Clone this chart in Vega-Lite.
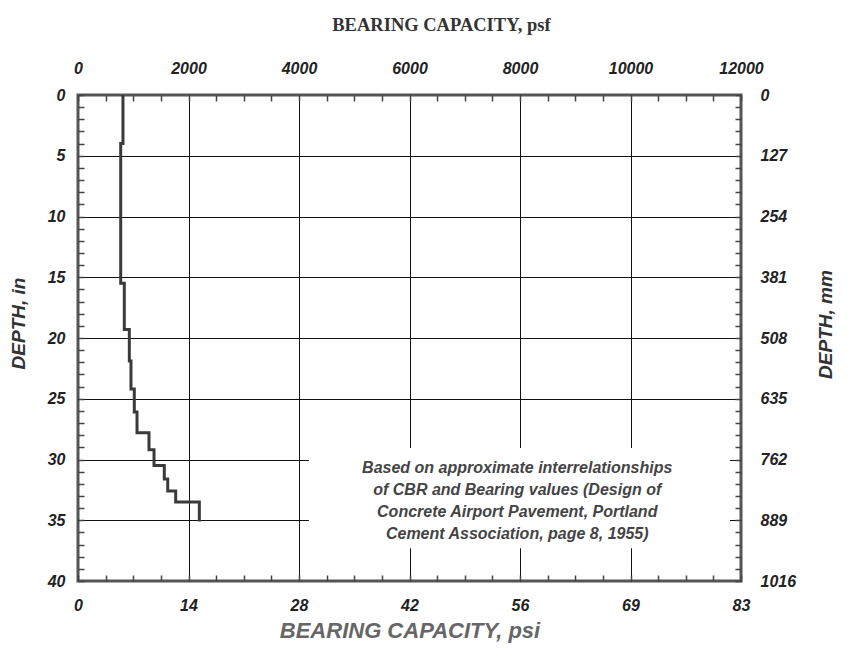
{
  "$schema": "https://vega.github.io/schema/vega-lite/v6.json",
  "width": 663,
  "height": 486,
  "autosize": {"type": "none"},
  "padding": {"left": 78, "top": 95, "right": 110, "bottom": 75},
  "background": "white",
  "config": {
    "view": {"stroke": "#555", "strokeWidth": 3},
    "axis": {
      "labelFont": "Liberation Sans",
      "labelFontStyle": "italic",
      "labelFontWeight": "bold",
      "labelFontSize": 16,
      "labelColor": "#222",
      "labelFlush": false,
      "labelOverlap": false,
      "domain": false,
      "tickColor": "#444",
      "tickWidth": 1.5,
      "tickSize": -6,
      "gridColor": "#111",
      "gridWidth": 1,
      "titleFont": "Liberation Sans",
      "titleFontStyle": "italic",
      "titleFontWeight": "bold",
      "titleColor": "#333"
    }
  },
  "resolve": {"axis": {"x": "independent", "y": "independent"}},
  "layer": [
    {
      "data": {"values": [{"x1": 4180, "x2": 11800, "d1": 29.05, "d2": 37.3}]},
      "mark": {"type": "rect", "fill": "white", "stroke": null},
      "encoding": {
        "x": {
          "field": "x1", "type": "quantitative",
          "scale": {"domain": [0, 12000], "nice": false, "zero": false},
          "axis": {
            "orient": "bottom",
            "values": [0,500,1000,1500,2000,2500,3000,3500,4000,4500,5000,5500,6000,6500,7000,7500,8000,8500,9000,9500,10000,10500,11000,11500,12000],
            "labelExpr": "datum.value % 2000 === 0 ? format(round(datum.value / 144), 'd') : ''",
            "labelPadding": 22,
            "grid": true,
            "gridOpacity": {"condition": {"test": "datum.value % 2000 === 0 && datum.value > 0 && datum.value < 12000", "value": 1}, "value": 0},
            "title": "BEARING CAPACITY, psi",
            "titleFontSize": 22,
            "titleColor": "#666",
            "titlePadding": 7
          }
        },
        "x2": {"field": "x2"},
        "y": {
          "field": "d1", "type": "quantitative",
          "scale": {"domain": [0, 40], "reverse": true, "nice": false, "zero": false},
          "axis": {
            "orient": "left",
            "values": [0,1,2,3,4,5,6,7,8,9,10,11,12,13,14,15,16,17,18,19,20,21,22,23,24,25,26,27,28,29,30,31,32,33,34,35,36,37,38,39,40],
            "labelExpr": "datum.value % 5 === 0 ? format(datum.value, 'd') : ''",
            "labelPadding": 19,
            "grid": true,
            "gridOpacity": {"condition": {"test": "datum.value % 5 === 0 && datum.value > 0 && datum.value < 40", "value": 1}, "value": 0},
            "title": "DEPTH, in",
            "titleFontSize": 19,
            "titlePadding": 19,
            "titleY": 228
          }
        },
        "y2": {"field": "d2"}
      }
    },
    {
      "data": {"values": [
        {"i": 1, "depth": 0, "psf": 814},
        {"i": 2, "depth": 4, "psf": 814},
        {"i": 3, "depth": 4, "psf": 773},
        {"i": 4, "depth": 15.5, "psf": 773},
        {"i": 5, "depth": 15.5, "psf": 838},
        {"i": 6, "depth": 19.3, "psf": 838},
        {"i": 7, "depth": 19.3, "psf": 929},
        {"i": 8, "depth": 21.9, "psf": 929},
        {"i": 9, "depth": 21.9, "psf": 959},
        {"i": 10, "depth": 24.2, "psf": 959},
        {"i": 11, "depth": 24.2, "psf": 1019},
        {"i": 12, "depth": 26.1, "psf": 1019},
        {"i": 13, "depth": 26.1, "psf": 1068},
        {"i": 14, "depth": 27.8, "psf": 1068},
        {"i": 15, "depth": 27.8, "psf": 1285},
        {"i": 16, "depth": 29.2, "psf": 1285},
        {"i": 17, "depth": 29.2, "psf": 1376},
        {"i": 18, "depth": 30.5, "psf": 1376},
        {"i": 19, "depth": 30.5, "psf": 1562},
        {"i": 20, "depth": 31.6, "psf": 1562},
        {"i": 21, "depth": 31.6, "psf": 1624},
        {"i": 22, "depth": 32.6, "psf": 1624},
        {"i": 23, "depth": 32.6, "psf": 1768},
        {"i": 24, "depth": 33.5, "psf": 1768},
        {"i": 25, "depth": 33.5, "psf": 2196},
        {"i": 26, "depth": 35.1, "psf": 2196}
      ]},
      "mark": {"type": "line", "stroke": "#3a3a3a", "strokeWidth": 3, "strokeJoin": "miter"},
      "encoding": {
        "x": {
          "field": "psf", "type": "quantitative",
          "scale": {"domain": [0, 12000], "nice": false, "zero": false},
          "axis": {
            "orient": "top",
            "values": [0,500,1000,1500,2000,2500,3000,3500,4000,4500,5000,5500,6000,6500,7000,7500,8000,8500,9000,9500,10000,10500,11000,11500,12000],
            "labelExpr": "datum.value % 2000 === 0 ? format(datum.value, 'd') : ''",
            "labelPadding": 25,
            "grid": false,
            "title": "BEARING CAPACITY, psf",
            "titleFont": "Liberation Serif",
            "titleFontStyle": "normal",
            "titleFontWeight": "bold",
            "titleFontSize": 18.5,
            "titleColor": "#333",
            "titlePadding": 26,
            "titleX": 363
          }
        },
        "y": {
          "field": "depth", "type": "quantitative",
          "scale": {"domain": [0, 40], "reverse": true, "nice": false, "zero": false},
          "axis": {
            "orient": "right",
            "values": [0,1,2,3,4,5,6,7,8,9,10,11,12,13,14,15,16,17,18,19,20,21,22,23,24,25,26,27,28,29,30,31,32,33,34,35,36,37,38,39,40],
            "labelExpr": "datum.value % 5 === 0 ? format(round(datum.value * 25.4), 'd') : ''",
            "labelPadding": 25,
            "grid": false,
            "title": "DEPTH, mm",
            "titleFontSize": 19,
            "titleAngle": 270,
            "titlePadding": 40,
            "titleY": 229
          }
        },
        "order": {"field": "i", "type": "quantitative"}
      }
    },
    {
      "data": {"values": [{"psf": 7950, "depth": 30.7, "note": ["Based on approximate interrelationships", "of CBR and Bearing values (Design of", "Concrete Airport Pavement, Portland", "Cement Association, page 8, 1955)"]}]},
      "mark": {"type": "text", "font": "Liberation Sans", "fontStyle": "italic", "fontWeight": "bold", "fontSize": 16, "color": "#444", "align": "center", "baseline": "middle", "lineHeight": 22},
      "encoding": {
        "x": {"field": "psf", "type": "quantitative", "axis": null},
        "y": {"field": "depth", "type": "quantitative", "axis": null},
        "text": {"field": "note"}
      }
    }
  ]
}
